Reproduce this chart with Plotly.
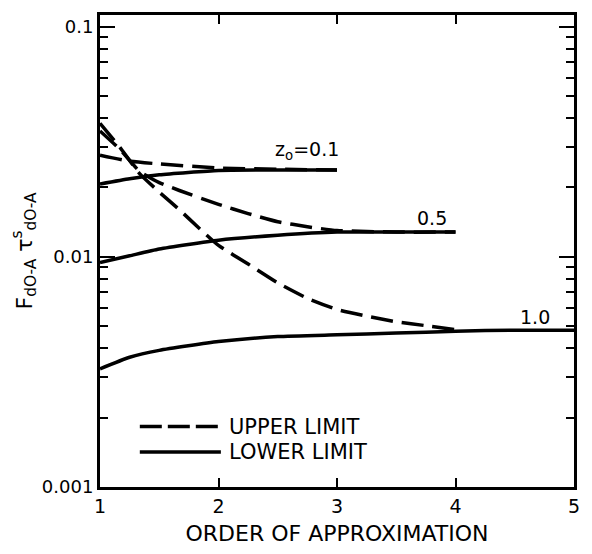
import math
import plotly.graph_objects as go

# Order of approximation (abscissa) for each curve
order_01 = [1, 1.25, 1.5, 2, 2.5, 3]
upper_01 = [0.0276, 0.0260, 0.0253, 0.0243, 0.0240, 0.0238]
lower_01 = [0.0207, 0.0218, 0.0227, 0.0237, 0.0238, 0.0238]

order_05_up = [1, 1.17, 1.33, 1.5, 1.67, 2, 2.25, 2.5, 2.75, 3, 3.5, 4]
upper_05 = [0.0352, 0.0292, 0.0236, 0.0210, 0.0194, 0.0169, 0.0154, 0.0142, 0.0135, 0.0130, 0.0128, 0.0128]
order_05_lo = [1, 1.25, 1.5, 2, 2.5, 3, 3.5, 4]
lower_05 = [0.00944, 0.0101, 0.0108, 0.0118, 0.0124, 0.0128, 0.0128, 0.0128]

order_10_up = [1, 1.17, 1.33, 1.5, 1.67, 1.83, 2, 2.25, 2.5, 2.75, 3, 3.25, 3.5, 3.75, 4]
upper_10 = [0.0380, 0.0298, 0.0231, 0.0191, 0.0160, 0.0134, 0.0112, 0.0093, 0.0077, 0.0066,
            0.00590, 0.00552, 0.00522, 0.00502, 0.00482]
order_10_lo = [1, 1.25, 1.5, 2, 2.5, 3, 3.5, 4, 4.5, 5]
lower_10 = [0.00326, 0.00366, 0.00392, 0.00428, 0.00450, 0.00458, 0.00466, 0.00475, 0.00480, 0.00480]

x_ticks = [1, 2, 3, 4, 5]
y_ticks = [0.001, 0.01, 0.1]
y_tick_text = ["0.001", "0.01", "0.1"]
y_minor = [m * d for d in (0.001, 0.01) for m in range(2, 10)]

# Curve labels: text, order, value
curve_labels = [("z<sub>o</sub>=0.1", 2.75, 0.0290),
                ("0.5", 3.8, 0.0147),
                ("1.0", 4.67, 0.0055)]

FONT = "DejaVu Sans"
LW = 3.5
DASH = "22px,9px"

fig = go.Figure()


def add_curve(x, y, dashed):
    fig.add_trace(go.Scatter(
        x=x, y=y, mode="lines", showlegend=False, hoverinfo="skip",
        line=dict(color="black", width=LW, dash=DASH if dashed else "solid",
                  shape="spline", smoothing=0.5),
    ))


add_curve(order_01, lower_01, False)
add_curve(order_05_lo, lower_05, False)
add_curve(order_10_lo, lower_10, False)
add_curve(order_01, upper_01, True)
add_curve(order_05_up, upper_05, True)
add_curve(order_10_up, upper_10, True)

# Annotation y on a log axis is given in log10 units
for txt, x, y in curve_labels:
    fig.add_annotation(x=x, y=math.log10(y), xref="x", yref="y", text=txt,
                       showarrow=False, xanchor="center", yanchor="middle",
                       font=dict(family=FONT, size=19, color="black"))

# Key drawn as short line samples with text beside them
fig.add_shape(type="line", xref="paper", yref="paper", x0=0.084, x1=0.255,
              y0=0.128, y1=0.128, line=dict(color="black", width=LW, dash="22px,6px"))
fig.add_shape(type="line", xref="paper", yref="paper", x0=0.084, x1=0.255,
              y0=0.0744, y1=0.0744, line=dict(color="black", width=LW))
for txt, yy in [("UPPER LIMIT", 0.128), ("LOWER LIMIT", 0.0744)]:
    fig.add_annotation(xref="paper", yref="paper", x=0.268, y=yy,
                       xanchor="left", yanchor="middle", text=txt, showarrow=False,
                       font=dict(family=FONT, size=21, color="black"))

fig.update_xaxes(
    range=[1, 5], tickvals=x_ticks, ticks="inside", ticklen=9, tickwidth=2,
    tickcolor="black", showline=True, linecolor="black", linewidth=3,
    mirror="allticks", showgrid=False, zeroline=False,
    tickfont=dict(family=FONT, size=19, color="black"),
    title=dict(text="ORDER OF APPROXIMATION", standoff=10,
               font=dict(family=FONT, size=22, color="black")),
)
fig.update_yaxes(
    type="log", range=[-3, -0.95], tickvals=y_ticks, ticktext=y_tick_text,
    ticks="inside", ticklen=15, tickwidth=2, tickcolor="black",
    minor=dict(tickvals=y_minor, ticks="inside", ticklen=8, tickwidth=2, tickcolor="black"),
    showline=True, linecolor="black", linewidth=3, mirror="allticks",
    showgrid=False, zeroline=False,
    tickfont=dict(family=FONT, size=18, color="black"),
    title=dict(text="F<sub>dO-A</sub> τ<sup>s</sup><sub>dO-A</sub>", standoff=4,
               font=dict(family=FONT, size=22, color="black")),
)

fig.update_layout(
    width=592, height=554,
    margin=dict(l=100, r=14, t=14, b=56),
    paper_bgcolor="white", plot_bgcolor="white",
    showlegend=False,
)

fig.write_html("out.html")
